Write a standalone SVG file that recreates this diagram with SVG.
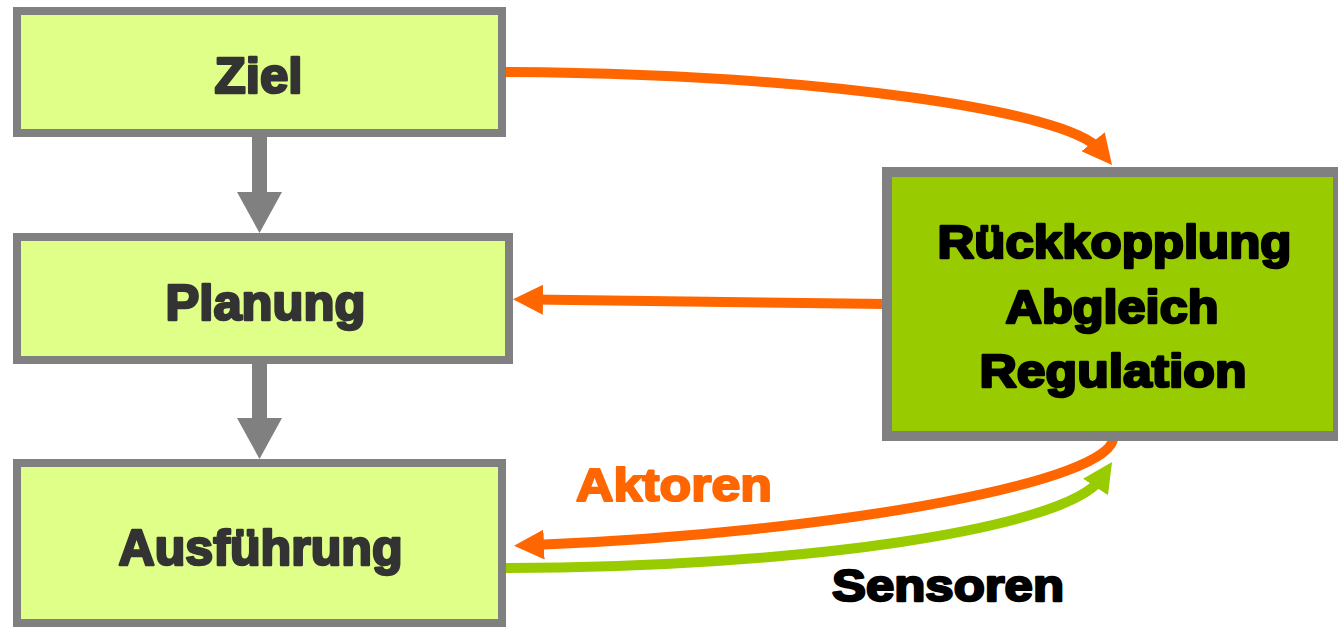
<svg xmlns="http://www.w3.org/2000/svg" width="1338" height="627" viewBox="0 0 1338 627">
  <style>
    .box { fill: #E0FF88; stroke: #808080; stroke-width: 8; }
    .boxmain { fill: #99CC00; stroke: #808080; stroke-width: 10; }
    .t { font-family: "Liberation Sans", Arial, sans-serif; font-weight: bold; text-anchor: middle; stroke-linejoin: round; }
    .tl { font-size: 50px; fill: #333333; stroke: #333333; stroke-width: 2.6; }
    .tm { font-size: 47px; fill: #000000; stroke: #000000; stroke-width: 2.6; }
    .lab-o { font-size: 47px; fill: #FF6600; stroke: #FF6600; stroke-width: 2.2; }
    .lab-k { font-size: 45px; fill: #000000; stroke: #000000; stroke-width: 2.4; }
    .c-gray { fill: none; stroke: #808080; stroke-width: 15; }
    .c-orange { fill: none; stroke: #FF6600; stroke-width: 10; }
    .c-green { fill: none; stroke: #99CC00; stroke-width: 10; }
  </style>
  <defs>
    <marker id="hGray" markerUnits="userSpaceOnUse" markerWidth="41" markerHeight="45" refX="3" refY="22.5" orient="auto">
      <path d="M0,0 L41,22.5 L0,45 z" fill="#808080"/>
    </marker>
    <marker id="hOrange" markerUnits="userSpaceOnUse" markerWidth="30" markerHeight="30" refX="10" refY="15" orient="auto">
      <path d="M0,0 L30,15 L0,30 z" fill="#FF6600"/>
    </marker>
    <marker id="hGreen" markerUnits="userSpaceOnUse" markerWidth="30" markerHeight="30" refX="10" refY="15" orient="auto">
      <path d="M0,0 L30,15 L0,30 z" fill="#99CC00"/>
    </marker>
  </defs>

  <g id="connectors">
    <path class="c-gray" d="M259.5,137 L259.5,195" marker-end="url(#hGray)"/>
    <path class="c-gray" d="M259.5,363 L259.5,421" marker-end="url(#hGray)"/>
    <path class="c-orange" d="M505,72 C820,74 1068,111 1099.4,149.5" marker-end="url(#hOrange)"/>
    <path class="c-orange" d="M886,304 L533,299.6" marker-end="url(#hOrange)"/>
    <path class="c-orange" d="M1113,438 C1113,480 850,532 534,545" marker-end="url(#hOrange)"/>
    <path class="c-green" d="M503,568 C800,568 1068,528.4 1101,478.6" marker-end="url(#hGreen)"/>
  </g>

  <g id="node-ziel">
    <rect class="box" x="17" y="11" width="485" height="122"/>
    <text class="t tl" x="258.5" y="93" textLength="88" lengthAdjust="spacingAndGlyphs">Ziel</text>
  </g>
  <g id="node-planung">
    <rect class="box" x="17" y="237" width="492" height="123"/>
    <text class="t tl" x="265.5" y="320" textLength="200" lengthAdjust="spacingAndGlyphs">Planung</text>
  </g>
  <g id="node-ausfuehrung">
    <rect class="box" x="17" y="463" width="485" height="160"/>
    <text class="t tl" x="260.5" y="565" textLength="284" lengthAdjust="spacingAndGlyphs">Ausführung</text>
  </g>
  <g id="node-rueckkopplung">
    <rect class="boxmain" x="887" y="172" width="451" height="264"/>
    <text class="t tm" x="1114.5" y="258" textLength="354" lengthAdjust="spacingAndGlyphs">Rückkopplung</text>
    <text class="t tm" x="1112" y="323" textLength="213" lengthAdjust="spacingAndGlyphs">Abgleich</text>
    <text class="t tm" x="1113" y="387" textLength="267" lengthAdjust="spacingAndGlyphs">Regulation</text>
  </g>

  <g id="labels">
    <text class="t lab-o" x="674" y="501" textLength="196" lengthAdjust="spacingAndGlyphs">Aktoren</text>
    <text class="t lab-k" x="948" y="601" textLength="232" lengthAdjust="spacingAndGlyphs">Sensoren</text>
  </g>
</svg>
